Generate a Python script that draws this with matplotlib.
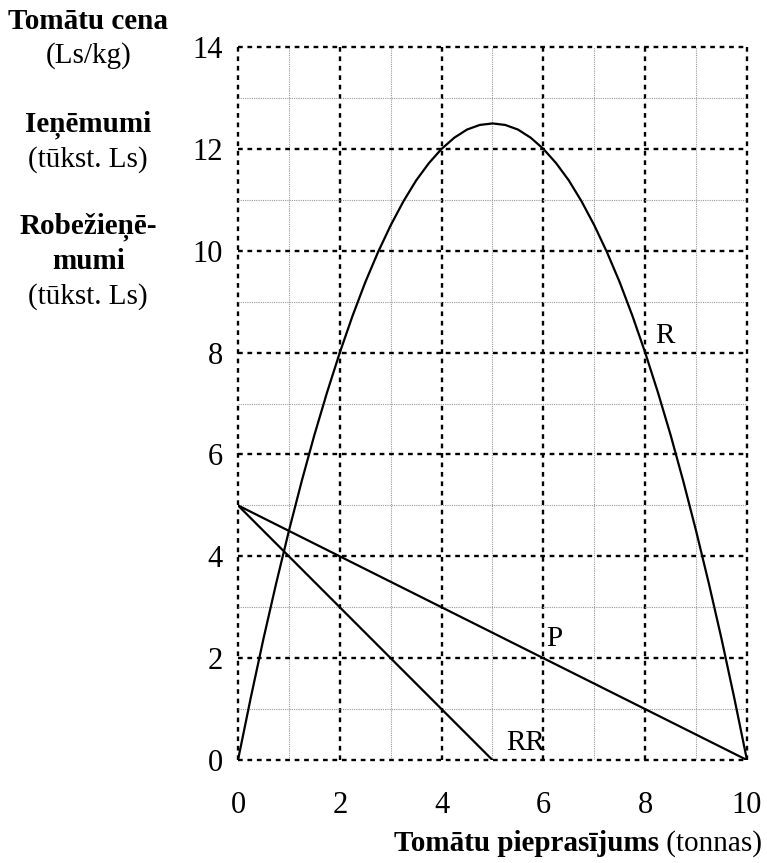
import numpy as np
import matplotlib.pyplot as plt

plt.rcParams['font.family'] = ['Liberation Serif', 'DejaVu Serif']

# --- Data ---
# demand (tonnes)
x_R = [0, 0.25, 0.5, 0.75, 1, 1.25, 1.5, 1.75, 2, 2.25, 2.5, 2.75, 3, 3.25, 3.5, 3.75, 4,
       4.25, 4.5, 4.75, 5, 5.25, 5.5, 5.75, 6, 6.25, 6.5, 6.75, 7, 7.25, 7.5, 7.75, 8,
       8.25, 8.5, 8.75, 9, 9.25, 9.5, 9.75, 10]
# revenue R (thousand Ls)
R_vals = [0, 1.22, 2.38, 3.47, 4.5, 5.47, 6.38, 7.22, 8, 8.72, 9.38, 9.97, 10.5, 10.97, 11.38, 11.72, 12,
          12.22, 12.38, 12.47, 12.5, 12.47, 12.38, 12.22, 12, 11.72, 11.38, 10.97, 10.5, 9.97, 9.38, 8.72, 8,
          7.22, 6.38, 5.47, 4.5, 3.47, 2.38, 1.22, 0]
# price P (Ls/kg)
x_P = [0, 10]
P_vals = [5, 0]
# marginal revenue RR
x_RR = [0, 5]
RR_vals = [5, 0]

x_ticks = [0, 2, 4, 6, 8, 10]
y_ticks = [0, 2, 4, 6, 8, 10, 12, 14]

fig = plt.figure(figsize=(7.67, 8.63), dpi=100)
ax = fig.add_axes([0.3103, 0.1193, 0.6636, 0.8262])

# grid: minor every 1, major every 2 (edges included)
for v in range(0, 11):
    if v % 2 == 0:
        ax.axvline(v, color='black', lw=1.7, linestyle=(0, (2, 2)), zorder=1, clip_on=False)
    else:
        ax.axvline(v, color='#999999', lw=0.8, linestyle=(0, (1, 1)), zorder=1)
for v in range(0, 15):
    if v % 2 == 0:
        ax.axhline(v, color='black', lw=1.7, linestyle=(0, (2, 2)), zorder=1, clip_on=False)
    else:
        ax.axhline(v, color='#999999', lw=0.8, linestyle=(0, (1, 1)), zorder=1)

ax.plot(x_R, R_vals, color='black', lw=1.6, zorder=3)
ax.plot(x_P, P_vals, color='black', lw=1.6, zorder=3)
ax.plot(x_RR, RR_vals, color='black', lw=1.6, zorder=3)

ax.text(8.2, 8.32, 'R', fontsize=21, va='center', ha='left')
ax.text(6.05, 2.37, 'P', fontsize=21, va='center', ha='left')
ax.text(5.27, 0.33, 'RR', fontsize=21, va='center', ha='left')

ax.set_xlim(0, 10)
ax.set_ylim(0, 14)
ax.set_xticks(x_ticks)
ax.set_yticks(y_ticks)
ax.tick_params(length=0, labelsize=22, pad=11)
ax.tick_params(axis='x', pad=22)
for s in ax.spines.values():
    s.set_visible(False)

# y-axis description block
fs = 21
fig.text(0.115, 0.975, 'Tomātu cena', fontsize=fs, fontweight='bold', ha='center', va='center')
fig.text(0.115, 0.936, '(Ls/kg)', fontsize=fs, ha='center', va='center')
fig.text(0.115, 0.855, 'Ieņēmumi', fontsize=fs, fontweight='bold', ha='center', va='center')
fig.text(0.115, 0.815, '(tūkst. Ls)', fontsize=fs, ha='center', va='center')
fig.text(0.115, 0.737, 'Robežieņē-', fontsize=fs, fontweight='bold', ha='center', va='center')
fig.text(0.115, 0.697, 'mumi', fontsize=fs, fontweight='bold', ha='center', va='center')
fig.text(0.115, 0.656, '(tūkst. Ls)', fontsize=fs, ha='center', va='center')

# x-axis label: bold part followed by unit in normal weight
unit = fig.text(0.993, 0.014, ' (tonnas)', fontsize=fs, ha='right', va='baseline')
fig.canvas.draw()
bb = unit.get_window_extent().transformed(fig.transFigure.inverted())
fig.text(bb.x0, 0.014, 'Tomātu pieprasījums', fontsize=fs, fontweight='bold', ha='right', va='baseline')

fig.savefig('out.png', dpi=100)
